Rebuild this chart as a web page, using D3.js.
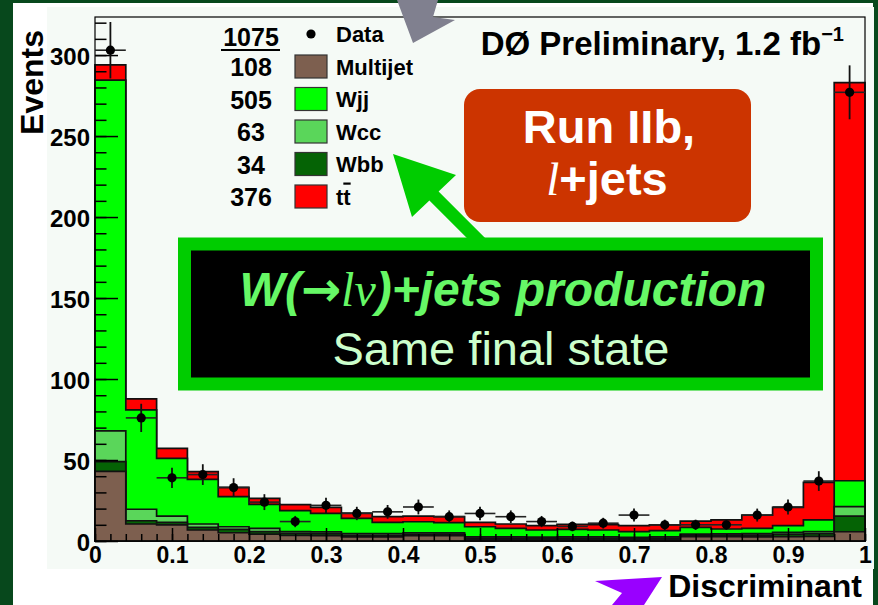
<!DOCTYPE html>
<html>
<head>
<meta charset="utf-8">
<script src="https://cdn.jsdelivr.net/npm/d3@7"></script>
<style>
  body { margin: 0; background: #07481c; }
  svg { display: block; }
  text { font-family: "Liberation Sans", Arial, sans-serif; }
</style>
</head>
<body>
<svg id="drawing_region"></svg>
<script>
// bins of the discriminant (low edges), width 0.04
const binLow = [0, 0.04, 0.08, 0.12, 0.16, 0.20, 0.24, 0.28, 0.32, 0.36, 0.40, 0.44, 0.48,
                0.52, 0.56, 0.60, 0.64, 0.68, 0.72, 0.76, 0.80, 0.84, 0.88, 0.92, 0.96];
const binWidth = 0.04;

// stacked backgrounds, bottom to top
const multijet = [43, 10.5, 9.9, 6.8, 5.1, 4.3, 3.5, 3.3, 2.5, 2.5, 3.3, 3.3, 1, 1, 1, 1, 1, 0.8, 1, 2.7, 2.7, 2.5, 2.7, 2.8, 5.7];
const wbb      = [6, 2, 1.6, 1.6, 2.1, 1.5, 1.2, 1.2, 1, 1, 0.9, 0.9, 0.8, 0.8, 0.7, 0.8, 0.8, 0.7, 0.8, 0.8, 0.9, 1.1, 1.5, 1.8, 9.7];
const wcc      = [19, 7.1, 3.9, 2.1, 1.6, 2, 1.1, 1.1, 1, 1, 0.9, 0.8, 0.7, 0.7, 0.7, 0.8, 0.8, 0.7, 0.8, 0.8, 0.8, 1, 1.2, 1.2, 5.8];
const wjj      = [216.5, 61.3, 35.6, 27.5, 18.6, 14.8, 12.9, 11.5, 9.5, 7, 6.8, 6.3, 6.3, 5.3, 4.4, 4.6, 4.2, 3.6, 3.8, 4.1, 3, 3.2, 4.1, 7.2, 16];
const ttbar    = [9.5, 6.8, 6.2, 4.8, 5.7, 3.7, 3.7, 3.7, 3.3, 3.5, 3.5, 3.7, 2.7, 2.7, 2.7, 3.1, 3.3, 3.7, 3.5, 3.9, 5.6, 8.2, 11.3, 23.2, 245.8];
const dataCounts = [303, 76, 39, 41, 33, 24, 12, 22, 17, 18, 21, 15, 17, 15, 12, 9, 11, 16, 10, 10, 10, 16, 21, 37, 277];

const legendNames  = ["Multijet", "Wjj", "Wcc", "Wbb", "tt"];
const legendCounts = [108, 505, 63, 34, 376];
const dataTotal = 1075;

const yTicks = [0, 50, 100, 150, 200, 250, 300];
const xTicks = [0, 0.1, 0.2, 0.3, 0.4, 0.5, 0.6, 0.7, 0.8, 0.9, 1];

const colors = {Multijet: "#7d5f4f", Wbb: "#056305", Wcc: "#5ad65a", Wjj: "#00ff00", tt: "#ff0000"};

const config = {
    width: 878, height: 605,
    margin: {top: 17, right: 13, bottom: 64, left: 95}
};

const svg = d3.select('#drawing_region')
    .attr('width', config.width)
    .attr('height', config.height);

const inner_width = config.width - config.margin.left - config.margin.right;   // 770
const inner_height = config.height - config.margin.top - config.margin.bottom; // 524

// page frame: white sheet and pale pad
svg.append('rect').attr('x', 13).attr('y', 3).attr('width', 860).attr('height', 602).attr('fill', '#ffffff');
svg.append('rect').attr('x', 47).attr('y', 7).attr('width', 827).attr('height', 562).attr('fill', '#f5faf6');

const chart = svg.append('g')
    .attr('transform', `translate(${config.margin.left}, ${config.margin.top})`);

const xscale = d3.scaleLinear().domain([0, 1]).range([0, inner_width]);
const yscale = d3.scaleLinear().domain([0, 323.5]).range([inner_height, 0]);

// cumulative stacks
const layers = [
    {name: "Multijet", vals: multijet},
    {name: "Wbb", vals: wbb},
    {name: "Wcc", vals: wcc},
    {name: "Wjj", vals: wjj},
    {name: "tt", vals: ttbar}
];
let running = binLow.map(() => 0);
layers.forEach(l => {
    running = running.map((r, i) => r + l.vals[i]);
    l.cum = running.slice();
});

const stepLine = d3.line()
    .x(d => xscale(d[0]))
    .y(d => yscale(d[1]));

function stepPoints(vals) {
    const pts = [[binLow[0], 0]];
    vals.forEach((v, i) => {
        pts.push([binLow[i], v]);
        pts.push([binLow[i] + binWidth, v]);
    });
    pts.push([binLow[binLow.length - 1] + binWidth, 0]);
    return pts;
}

layers.slice().reverse().forEach(l => {
    chart.append('path')
        .attr('d', stepLine(stepPoints(l.cum)) + 'Z')
        .attr('fill', colors[l.name])
        .attr('stroke', '#111')
        .attr('stroke-width', 1.7)
        .attr('stroke-linejoin', 'miter');
});

// axes
const yaxis = d3.axisLeft(yscale).tickValues(yTicks).tickSizeInner(-23).tickSizeOuter(0).tickPadding(5);
const yminor = d3.axisLeft(yscale).tickValues(d3.range(0, 321, 10)).tickSizeInner(-11.5).tickSizeOuter(0).tickFormat('');
const xaxis = d3.axisBottom(xscale).tickValues(xTicks).tickSizeInner(-13).tickSizeOuter(0).tickPadding(6)
    .tickFormat(d => d === 0 ? '0' : d === 1 ? '1' : d3.format('.1f')(d));
const xminor = d3.axisBottom(xscale).tickValues(d3.range(0, 1.001, 0.02)).tickSizeInner(-7).tickSizeOuter(0).tickFormat('');

chart.append('g').call(yminor);
const ygroup = chart.append('g').call(yaxis);
chart.append('g').attr('transform', `translate(0, ${inner_height})`).call(xminor);
const xgroup = chart.append('g').attr('transform', `translate(0, ${inner_height})`).call(xaxis);

chart.selectAll('.domain').remove();
chart.selectAll('.tick line').attr('stroke', '#000').attr('stroke-width', 1.5);
ygroup.selectAll('text')
    .attr('font-family', '"Liberation Sans", Arial, sans-serif')
    .attr('font-size', 24).attr('font-weight', 'bold').attr('fill', '#000')
    .attr('dy', '0.38em');
xgroup.selectAll('text')
    .attr('font-family', '"Liberation Sans", Arial, sans-serif')
    .attr('font-size', 23).attr('font-weight', 'bold').attr('fill', '#000');

// frame
chart.append('rect')
    .attr('width', inner_width).attr('height', inner_height)
    .attr('fill', 'none').attr('stroke', '#000').attr('stroke-width', 1.2);

// data points with errors
const pts = chart.append('g');
dataCounts.forEach((n, i) => {
    const cx = xscale(binLow[i] + binWidth / 2);
    const err = Math.sqrt(n);
    pts.append('line')
        .attr('x1', xscale(binLow[i])).attr('x2', xscale(binLow[i] + binWidth))
        .attr('y1', yscale(n)).attr('y2', yscale(n))
        .attr('stroke', '#222').attr('stroke-width', 1.6);
    pts.append('line')
        .attr('x1', cx).attr('x2', cx)
        .attr('y1', yscale(n - err)).attr('y2', yscale(n + err))
        .attr('stroke', '#111').attr('stroke-width', 1.8);
    pts.append('circle')
        .attr('cx', cx).attr('cy', yscale(n)).attr('r', 4.6)
        .attr('fill', '#000');
});

// axis titles
svg.append('text')
    .attr('transform', 'translate(43, 30) rotate(-90)')
    .attr('text-anchor', 'end')
    .attr('font-size', 32).attr('font-weight', 'bold')
    .text('Events');

svg.append('text')
    .attr('x', 862).attr('y', 597)
    .attr('text-anchor', 'end')
    .attr('font-size', 32).attr('font-weight', 'bold')
    .text('Discriminant');

// title
const title = svg.append('text')
    .attr('x', 844).attr('y', 55)
    .attr('text-anchor', 'end')
    .attr('font-size', 33).attr('font-weight', 'bold');
title.append('tspan').text('DØ Preliminary, 1.2 fb');
title.append('tspan').attr('font-size', 20).attr('dy', -14).text('−1');

// legend
const legend = svg.append('g');
const rowY = [34, 66.5, 99, 131.5, 164, 196.5];
legend.append('text')
    .attr('x', 251).attr('y', rowY[0] + 12)
    .attr('text-anchor', 'middle')
    .attr('font-size', 25).attr('font-weight', 'bold')
    .text(dataTotal);
legend.append('line')
    .attr('x1', 221).attr('x2', 280).attr('y1', 50).attr('y2', 50)
    .attr('stroke', '#000').attr('stroke-width', 2.2);
legend.append('circle').attr('cx', 311).attr('cy', rowY[0]).attr('r', 4.6).attr('fill', '#000');
legend.append('text')
    .attr('x', 336).attr('y', rowY[0] + 8)
    .attr('font-size', 22).attr('font-weight', 'bold')
    .text('Data');

legendNames.forEach((name, i) => {
    const cy = rowY[i + 1];
    legend.append('text')
        .attr('x', 251).attr('y', cy + 9.5)
        .attr('text-anchor', 'middle')
        .attr('font-size', 25).attr('font-weight', 'bold')
        .text(legendCounts[i]);
    legend.append('rect')
        .attr('x', 295).attr('y', cy - 11.5).attr('width', 32).attr('height', 23)
        .attr('fill', colors[name]).attr('stroke', '#333').attr('stroke-width', 1.2);
    const t = legend.append('text')
        .attr('x', 336).attr('y', cy + 8)
        .attr('font-size', 22).attr('font-weight', 'bold');
    if (name === 'tt') {
        t.append('tspan').text('t');
        t.append('tspan').style('text-decoration', 'overline').text('t');
    } else {
        t.text(name);
    }
});

// annotation: Run IIb box
svg.append('rect')
    .attr('x', 464).attr('y', 89).attr('width', 287).attr('height', 133)
    .attr('rx', 16).attr('ry', 16)
    .attr('fill', '#cc3400');
svg.append('text')
    .attr('x', 609).attr('y', 143)
    .attr('text-anchor', 'middle')
    .attr('font-size', 47).attr('font-weight', 'bold').attr('fill', '#fff')
    .text('Run IIb,');
const lj = svg.append('text')
    .attr('x', 607).attr('y', 195)
    .attr('text-anchor', 'middle')
    .attr('font-size', 47).attr('font-weight', 'bold').attr('fill', '#fff');
lj.append('tspan')
    .attr('font-family', '"Liberation Serif", "Times New Roman", serif')
    .attr('font-style', 'italic').attr('font-weight', 'normal')
    .text('l');
lj.append('tspan').text('+jets');

// green arrow pointing at the legend
svg.append('polygon')
    .attr('points', '393,154 456,175 438.6,191.4 486.6,239.4 477.4,248.6 429.4,200.6 412,217')
    .attr('fill', '#00cc00');

// W+jets box
svg.append('rect')
    .attr('x', 184.5).attr('y', 244).attr('width', 632).attr('height', 140)
    .attr('fill', '#000').attr('stroke', '#00cc00').attr('stroke-width', 13);
const wt = svg.append('text')
    .attr('x', 503).attr('y', 306)
    .attr('text-anchor', 'middle')
    .attr('font-size', 48).attr('font-weight', 'bold').attr('font-style', 'italic')
    .attr('fill', '#66f866');
wt.append('tspan').text('W(');
wt.append('tspan').attr('font-family', '"DejaVu Sans", sans-serif').attr('font-style', 'normal').text('→');
wt.append('tspan')
    .attr('font-family', '"Liberation Serif", "Times New Roman", serif')
    .attr('font-weight', 'normal')
    .text('lν');
wt.append('tspan').text(')+jets production');
svg.append('text')
    .attr('x', 501).attr('y', 365)
    .attr('text-anchor', 'middle')
    .attr('font-size', 47).attr('fill', '#ccffcc')
    .text('Same final state');

// gray arrow at the top
svg.append('polygon')
    .attr('points', '413,43 397,0 438,0 433,17 455,20')
    .attr('fill', '#80808f');

// purple arrow at the bottom
svg.append('polygon')
    .attr('points', '662,577 595,581 622,593 612,605 644,605')
    .attr('fill', '#9900ff');
</script>
</body>
</html>
